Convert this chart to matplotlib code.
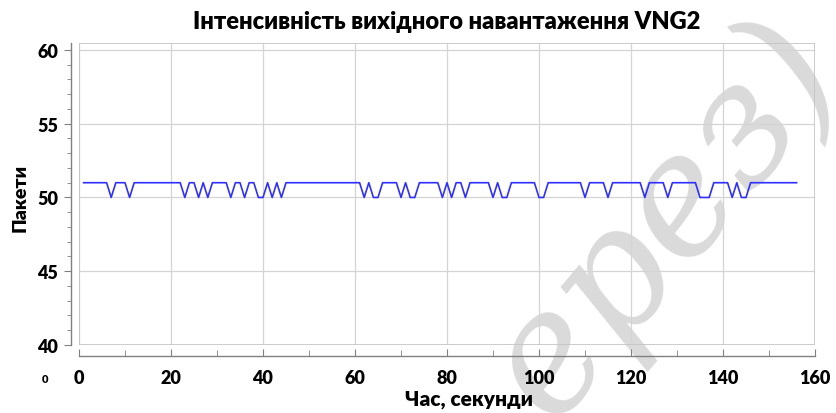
import numpy as np
import matplotlib
matplotlib.use("Agg")
import matplotlib.pyplot as plt
from matplotlib.ticker import MultipleLocator
from matplotlib.patches import Rectangle

plt.rcParams['font.family'] = ['Lato', 'DejaVu Sans']

# output load of VNG2, packets per second
seconds = list(range(1, 157))
base_level = 51
low_level = 50
low_seconds = [7, 11, 23, 26, 28, 33, 36, 39, 40, 42, 44,
               62, 64, 65, 70, 72, 73, 79, 81, 84, 90, 92, 93,
               100, 101, 110, 115, 123, 128, 135, 136, 137,
               142, 144, 145]
packets = [low_level if s in low_seconds else base_level for s in seconds]

x_ticks = [0, 20, 40, 60, 80, 100, 120, 140, 160]
y_ticks = [40, 45, 50, 55, 60]

fig = plt.figure(figsize=(8.36, 4.14), dpi=100)
fig.patch.set_facecolor('white')
ax = fig.add_axes([79 / 836, 1 - 346 / 414, 736 / 836, 302 / 414])
ax.patch.set_visible(False)

ax.plot(seconds, packets, color='#2f2fff', linewidth=1.2, zorder=3)

ax.set_xlim(0, 160)
ax.set_ylim(40, 60.47)
ax.set_xticks(x_ticks)
ax.set_yticks(y_ticks)
ax.xaxis.set_minor_locator(MultipleLocator(10))
ax.yaxis.set_minor_locator(MultipleLocator(1))

ax.grid(True, which='major', color='#d4d4d4', linewidth=0.9)
ax.add_patch(Rectangle((0, 0), 1, 1, transform=ax.transAxes, fill=False,
                       edgecolor='#c4c4c4', linewidth=1.2, zorder=2))

for side in ['top', 'right']:
    ax.spines[side].set_visible(False)
ax.spines['left'].set_position(('outward', 6))
ax.spines['bottom'].set_position(('outward', 8))
for side in ['left', 'bottom']:
    ax.spines[side].set_color('#808080')
    ax.spines[side].set_linewidth(1.0)

ax.tick_params(axis='y', which='both', direction='out', color='#808080',
               labelsize=13, pad=4)
ax.tick_params(axis='y', which='major', length=5)
ax.tick_params(axis='y', which='minor', length=3)
ax.tick_params(axis='x', which='both', direction='in', color='#808080',
               labelsize=13, pad=9)
ax.tick_params(axis='x', which='major', length=5)
ax.tick_params(axis='x', which='minor', length=4)
for lbl in ax.get_xticklabels() + ax.get_yticklabels():
    lbl.set_fontweight('heavy')

ax.set_title('Інтенсивність вихідного навантаження VNG2',
             fontsize=17, fontweight='heavy', pad=11)
ax.set_xlabel('Час, секунди', fontsize=15, fontweight='heavy')
ax.xaxis.set_label_coords(0.53, -0.145)
ax.set_ylabel('Пакети', fontsize=14, fontweight='heavy')
ax.yaxis.set_label_coords(-0.069, 0.49)

fig.text(45 / 836, 1 - 380 / 414, '0', fontsize=8, fontweight='heavy',
         ha='center', va='center')

# light diagonal watermark, drawn beneath the chart
fig.text(0.795, 0.47, 'ерез)', fontsize=120, color='#dadada', rotation=50,
         family='DejaVu Serif', style='italic', ha='center', va='center',
         zorder=-1)

fig.savefig('out.png', dpi=100, facecolor='white')
